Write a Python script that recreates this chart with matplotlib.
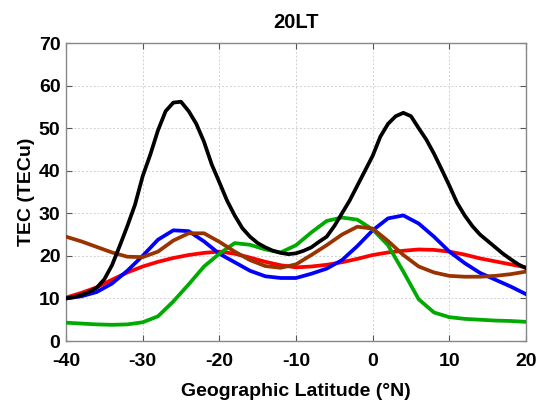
import matplotlib
matplotlib.use("Agg")
import matplotlib.pyplot as plt

lat = list(range(-40, 21, 2))
lat_black = list(range(-40, 21, 1))

black = [10, 10.3, 10.8, 11.5, 12.5, 14.5, 17.8, 22.3, 27, 32, 38.7, 43.8, 49.5, 54, 56, 56.2,
         54, 51, 46.8, 41.5, 37.3, 33, 29.5, 26.5, 24.5, 23, 22, 21.2, 20.7, 20.4, 20.6,
         21.2, 22, 23.3, 24.5, 27, 30, 33, 36.5, 40, 43.5, 48, 51, 52.8, 53.6, 52.8,
         50, 47.3, 44, 40.3, 36.5, 32.5, 29.5, 27, 25, 23.5, 22, 20.5, 19.2, 18, 17.1]
blue = [10, 10.5, 11.5, 13.5, 16.5, 20, 23.8, 26, 25.8, 23.4, 20.5, 18.5, 16.5, 15.2, 14.8, 14.8,
        15.8, 17, 19, 22.3, 26, 28.8, 29.5, 27.6, 24.5, 21, 18.3, 16, 14.4, 12.8, 11]
red = [10.2, 11.3, 12.6, 14.4, 16.1, 17.5, 18.6, 19.5, 20.2, 20.7, 21, 20.5, 19.6, 18.6, 17.8, 17.3,
       17.5, 17.9, 18.5, 19.3, 20.2, 20.8, 21.2, 21.5, 21.4, 21, 20.3, 19.4, 18.7, 18, 17.3]
green = [4.3, 4.1, 3.9, 3.8, 3.9, 4.4, 5.8, 9.3, 13.3, 17.5, 20.5, 23, 22.6, 21.5, 20.8, 22.5,
         25.5, 28.2, 29, 28.5, 26.2, 22.5, 16.3, 9.8, 6.7, 5.6, 5.2, 5, 4.8, 4.7, 4.5]
brown = [24.5, 23.4, 22.1, 20.8, 19.8, 19.7, 21, 23.6, 25.3, 25.3, 23.3, 21, 19, 17.6, 17.2, 18,
         20.2, 22.5, 25, 26.85, 26.4, 23.5, 20.2, 17.5, 16.1, 15.3, 15.1, 15.1, 15.3, 15.7, 16.3]

xticks = [-40, -30, -20, -10, 0, 10, 20]
yticks = [0, 10, 20, 30, 40, 50, 60, 70]

plt.rcParams['font.family'] = ['Liberation Sans', 'DejaVu Sans']
plt.rcParams['font.weight'] = 'bold'

fig = plt.figure(figsize=(5.37, 4.0), dpi=100)
ax = fig.add_axes([66/537, 1-341/400, (526-66)/537, (341-43)/400])

lw = 2.7
ax.plot(lat, red, color='#ff0000', lw=lw, zorder=3)
ax.plot(lat, blue, color='#0000ff', lw=lw, zorder=3)
ax.plot(lat, brown, color='#993300', lw=lw, zorder=4)
ax.plot(lat, green, color='#00aa00', lw=lw, zorder=3)
ax.plot(lat_black, black, color='#000000', lw=lw, zorder=5)

ax.set_xlim(-40, 20)
ax.set_ylim(0, 70)
ax.set_xticks(xticks)
ax.set_yticks(yticks)
ax.set_xticklabels([str(v) for v in xticks], fontsize=14, fontweight='bold')
ax.set_yticklabels([str(v) for v in yticks], fontsize=14, fontweight='bold')
ax.tick_params(direction='in', top=True, right=True, length=4, width=0.8,
               color='#555555')
ax.tick_params(axis='x', pad=9)
ax.tick_params(axis='y', pad=4)
ax.grid(True, color='#d0d0d0', linestyle=(0, (2, 2)), linewidth=0.7)
for s in ax.spines.values():
    s.set_color('#888888')
    s.set_linewidth(1.0)

ax.set_xlabel('Geographic Latitude (°N)', fontsize=14, fontweight='bold', labelpad=9)
ax.set_ylabel('TEC (TECu)', fontsize=14, fontweight='bold', labelpad=3)
ax.set_title('20LT', fontsize=14.5, fontweight='bold', pad=11)

fig.savefig('out.png', dpi=100)
